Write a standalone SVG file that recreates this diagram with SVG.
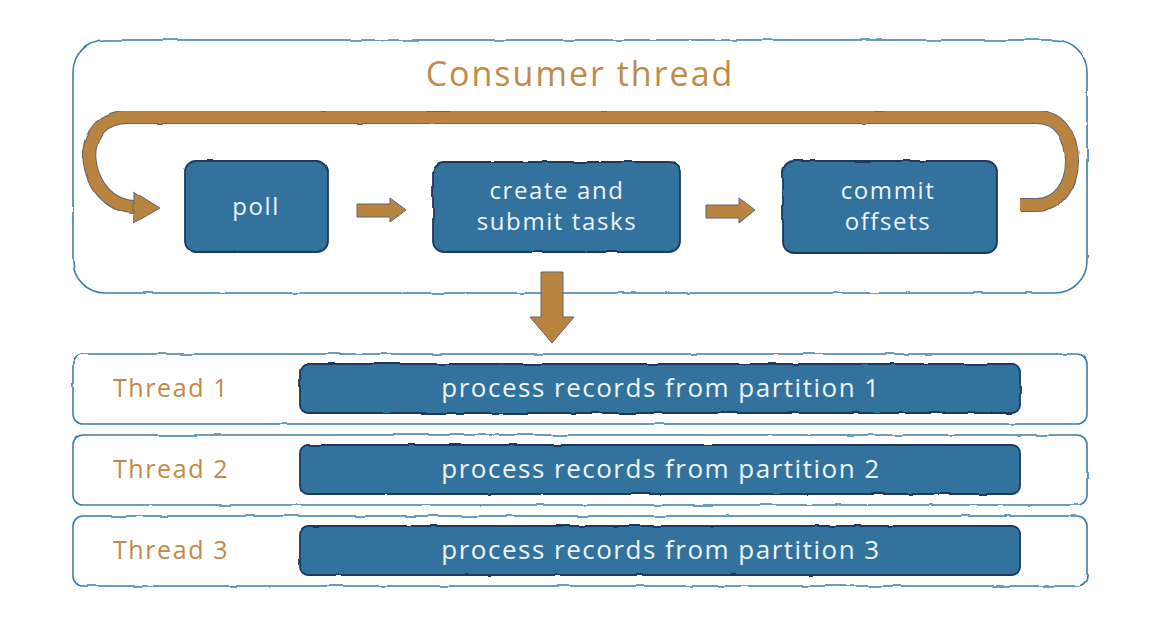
<svg xmlns="http://www.w3.org/2000/svg" width="1174" height="628" viewBox="0 0 1174 628">
<defs>
<filter id="wob" x="-5%" y="-5%" width="110%" height="110%">
<feTurbulence type="fractalNoise" baseFrequency="0.04" numOctaves="2" seed="3" result="n"/>
<feDisplacementMap in="SourceGraphic" in2="n" scale="2.5" xChannelSelector="R" yChannelSelector="G"/>
</filter>
</defs>
<style>
.frame{fill:#ffffff;stroke:#3b7fab;stroke-width:1.6}
.box{fill:#31729d;stroke:#1e3a5c;stroke-width:1.8}
.arr{fill:#b9843f;stroke:#5f6670;stroke-width:1}
.band{fill:none;stroke:#5f6670;stroke-width:14}
.bandin{fill:none;stroke:#b9843f;stroke-width:12}
.wt{font-family:"Open Sans","Liberation Sans",sans-serif;fill:#eef4f8;text-anchor:middle}
.ot{font-family:"Open Sans","Liberation Sans",sans-serif;fill:#c08a48}
.pt{font-size:26px;letter-spacing:1.5px}
.tt{font-size:25px;letter-spacing:1.6px}
.bt{font-size:24px;letter-spacing:1.6px}
</style>
<rect width="1174" height="628" fill="#ffffff"/>
<g id="consumer" filter="url(#wob)">
<rect class="frame" x="73" y="40" width="1014" height="253" rx="32"/>
</g>
<text class="ot" x="580" y="86" font-size="34" letter-spacing="2" text-anchor="middle">Consumer thread</text>
<g id="connectors">
<g filter="url(#wob)">
<path class="band" d="M89,158 C89,132 104,117 128,117 L1037,117 C1062,117 1072,140 1072,161 C1072,186 1058,205 1037,205 L1020,205"/>
<path class="band" d="M89,150 C89,185 110,207 136,207"/>
<path class="bandin" d="M89,158 C89,132 104,117 128,117 L1037,117 C1062,117 1072,140 1072,161 C1072,186 1058,205 1037,205 L1020,205"/>
<path class="bandin" d="M89,150 C89,185 110,207 136,207"/>
<polygon class="arr" points="134,192 160,208 134,223"/>
</g>
<polygon class="arr" points="357,204 390,204 390,198 406,210 390,222 390,217 357,217"/>
<polygon class="arr" points="706,205 739,205 739,198 755,210 739,223 739,218 706,218"/>
<polygon class="arr" points="541,272 563,272 563,317 574,317 552,343 530,317 541,317"/>
</g>
<g id="poll">
<rect class="box" x="185" y="161" width="143" height="91" rx="11" filter="url(#wob)"/>
<text class="wt bt" x="256" y="215">poll</text>
</g>
<g id="create">
<rect class="box" x="433" y="162" width="247" height="90" rx="11" filter="url(#wob)"/>
<text class="wt bt" x="557" y="199">create and</text>
<text class="wt bt" x="557" y="230">submit tasks</text>
</g>
<g id="commit">
<rect class="box" x="783" y="161" width="214" height="92" rx="11" filter="url(#wob)"/>
<text class="wt bt" x="888" y="199">commit</text>
<text class="wt bt" x="888" y="230">offsets</text>
</g>
<g id="thread1">
<rect class="frame" x="73" y="354" width="1014" height="70" rx="10" filter="url(#wob)"/>
<text class="ot tt" x="113" y="397">Thread 1</text>
<rect class="box" x="300" y="364" width="720" height="49" rx="8" filter="url(#wob)"/>
<text class="wt pt" x="661" y="397">process records from partition 1</text>
</g>
<g id="thread2">
<rect class="frame" x="73" y="435" width="1014" height="70" rx="10" filter="url(#wob)"/>
<text class="ot tt" x="113" y="478">Thread 2</text>
<rect class="box" x="300" y="445" width="720" height="49" rx="8" filter="url(#wob)"/>
<text class="wt pt" x="661" y="478">process records from partition 2</text>
</g>
<g id="thread3">
<rect class="frame" x="73" y="516" width="1014" height="70" rx="10" filter="url(#wob)"/>
<text class="ot tt" x="113" y="559">Thread 3</text>
<rect class="box" x="300" y="526" width="720" height="49" rx="8" filter="url(#wob)"/>
<text class="wt pt" x="661" y="559">process records from partition 3</text>
</g>
</svg>
